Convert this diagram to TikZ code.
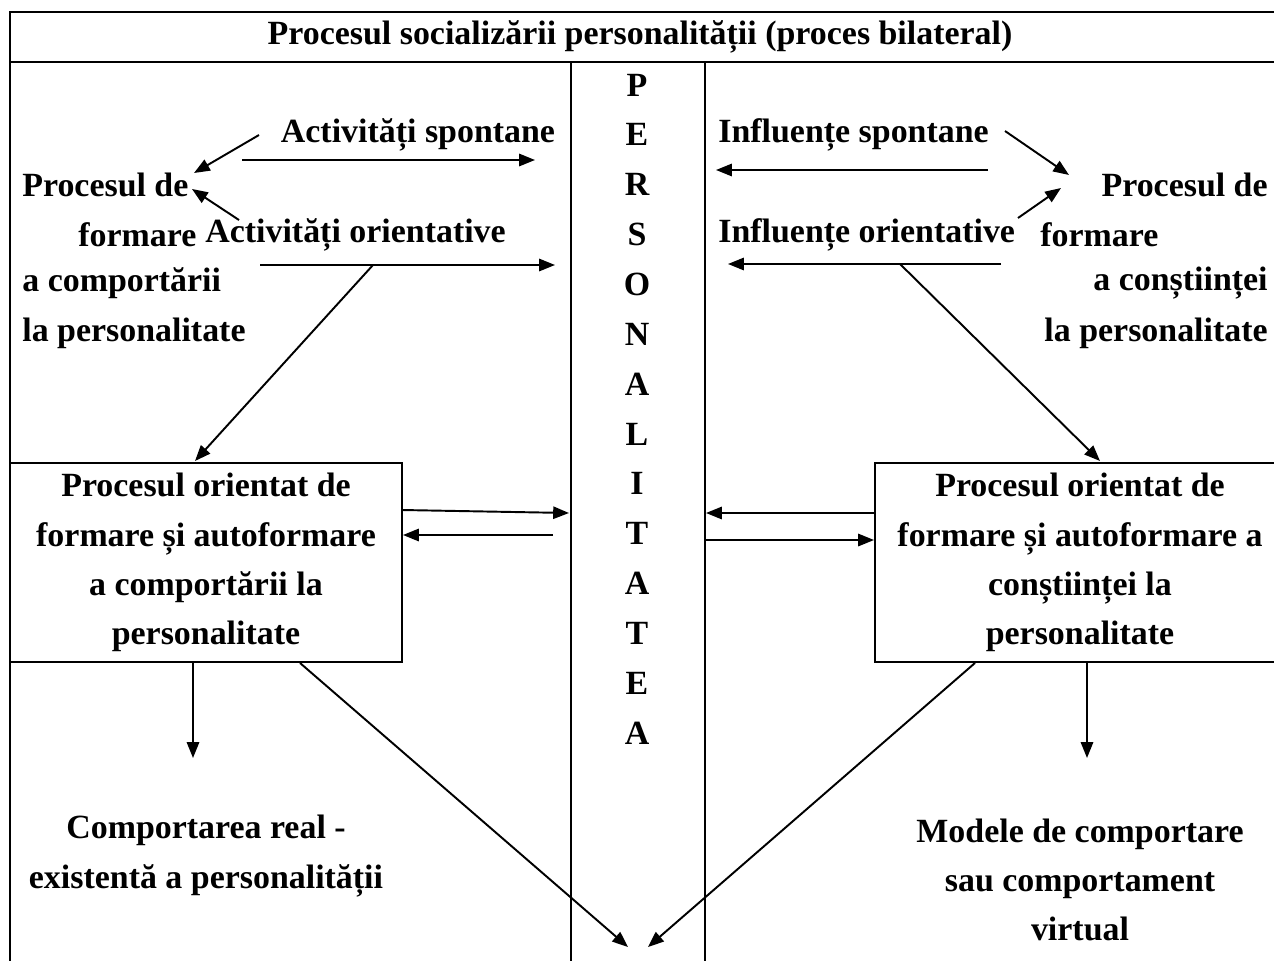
\documentclass[tikz,border=0pt]{standalone}
\usepackage{fontspec}
\setmainfont{Liberation Serif}
\usetikzlibrary{arrows.meta,positioning}

\begin{document}
\begin{tikzpicture}[x=0.02cm,y=-0.02cm]
				\tikzstyle{Txt}		= [font=\fontsize{19.3}{28}\selectfont\bfseries, inner sep=0pt]
				\tikzstyle{Box}		= [Txt, draw, line width=1.1pt, align=center, minimum height=199*0.02cm]
				\tikzstyle{Arr}		= [-{Triangle[length=9pt,width=7pt]}, line width=1.1pt]
				\tikzstyle{Frame}	= [line width=1.1pt]

				\useasboundingbox (0,0) rectangle (1274,960);

				% frame
				\draw [Frame] (10,975) -- (10,12) -- (1290,12);
				\draw [Frame] (10,62) -- (1290,62);
				\draw [Frame] (571,62) -- (571,975);
				\draw [Frame] (705,62) -- (705,975);

				\node (title) at (640,37) [Txt] {Procesul socializării personalității (proces bilateral)};

				% PERSONALITATEA
				\foreach \c [count=\i] in {P,E,R,S,O,N,A,L,I,T,A,T,E,A}
					\node (l\i) at (637, 85+49.85*\i-49.85) [Txt] {\c};

				% left side
				\node (actsp) at (418,135) [Txt] {Activități spontane};
				\node (procL1) at (22,185) [Txt, anchor=west] {Procesul de};
				\node (procL2) at (78,235) [Txt, anchor=west] {formare};
				\node (actor) at (205,235) [Txt, anchor=west] {Activități orientative};
				\node (procL3) at (22,283) [Txt, anchor=west] {a comportării};
				\node (procL4) at (22,333) [Txt, anchor=west] {la personalitate};

				% right side
				\node (infsp) at (718,135) [Txt, anchor=west] {Influențe spontane};
				\node (procR1) at (1268,185) [Txt, anchor=east] {Procesul de};
				\node (infor) at (718,235) [Txt, anchor=west] {Influențe orientative};
				\node (procR2) at (1040,235) [Txt, anchor=west] {formare};
				\node (procR3) at (1268,283) [Txt, anchor=east] {a conștiinței};
				\node (procR4) at (1268,333) [Txt, anchor=east] {la personalitate};

				% boxes
				\node (boxL) at (206,562.5) [Box, minimum width=392*0.02cm]
					{Procesul orientat de\\formare și autoformare\\a comportării la\\personalitate};
				\node (boxR) at (1080,562.5) [Box, minimum width=410*0.02cm]
					{Procesul orientat de\\formare și autoformare a\\conștiinței la\\personalitate};

				\node (compL) at (206,856) [Txt, align=center] {Comportarea real -\\existentă a personalității};
				\node (modR) at (1080,880) [Txt, align=center] {Modele de comportare\\sau comportament\\virtual};

				% arrow ends
				\coordinate (a1) at (242,160);	\coordinate (a2) at (535,160);
				\coordinate (a3) at (260,265);	\coordinate (a4) at (555,265);
				\coordinate (a5) at (988,170);	\coordinate (a6) at (716,170);
				\coordinate (a7) at (1001,264);	\coordinate (a8) at (728,264);
				\coordinate (s1) at (373,265);	\coordinate (s2) at (900,264);
				\coordinate (pL) at (194,173);	\coordinate (pL2) at (192,189);
				\coordinate (pR) at (1069,175);	\coordinate (pR2) at (1061,188);
				\coordinate (bot1) at (628,947);	\coordinate (bot2) at (648,947);

				\draw [Arr] (a1) -- (a2);
				\draw [Arr] (a3) -- (a4);
				\draw [Arr] (a5) -- (a6);
				\draw [Arr] (a7) -- (a8);
				\draw [Arr] (259,135) -- (pL);
				\draw [Arr] (239,220) -- (pL2);
				\draw [Arr] (1005,131) -- (pR);
				\draw [Arr] (1018,218) -- (pR2);

				\draw [Arr] (s1) -- (195,461);
				\draw [Arr] (s2) -- (1100,461);

				\draw [Arr] (402,510) -- (569,513);
				\draw [Arr] (553,535) -- (boxL.east |- 0,535);
				\draw [Arr] (boxR.west |- 0,513) -- (706,513);
				\draw [Arr] (705,540) -- (boxR.west |- 0,540);

				\draw [Arr] (boxL.south -| 193,0) -- (193,758);
				\draw [Arr] (boxR.south -| 1087,0) -- (1087,758);
				\draw [Arr] (boxL.south -| 300,0) -- (bot1);
				\draw [Arr] (boxR.south -| 975,0) -- (bot2);
			\end{tikzpicture}
\end{document}
